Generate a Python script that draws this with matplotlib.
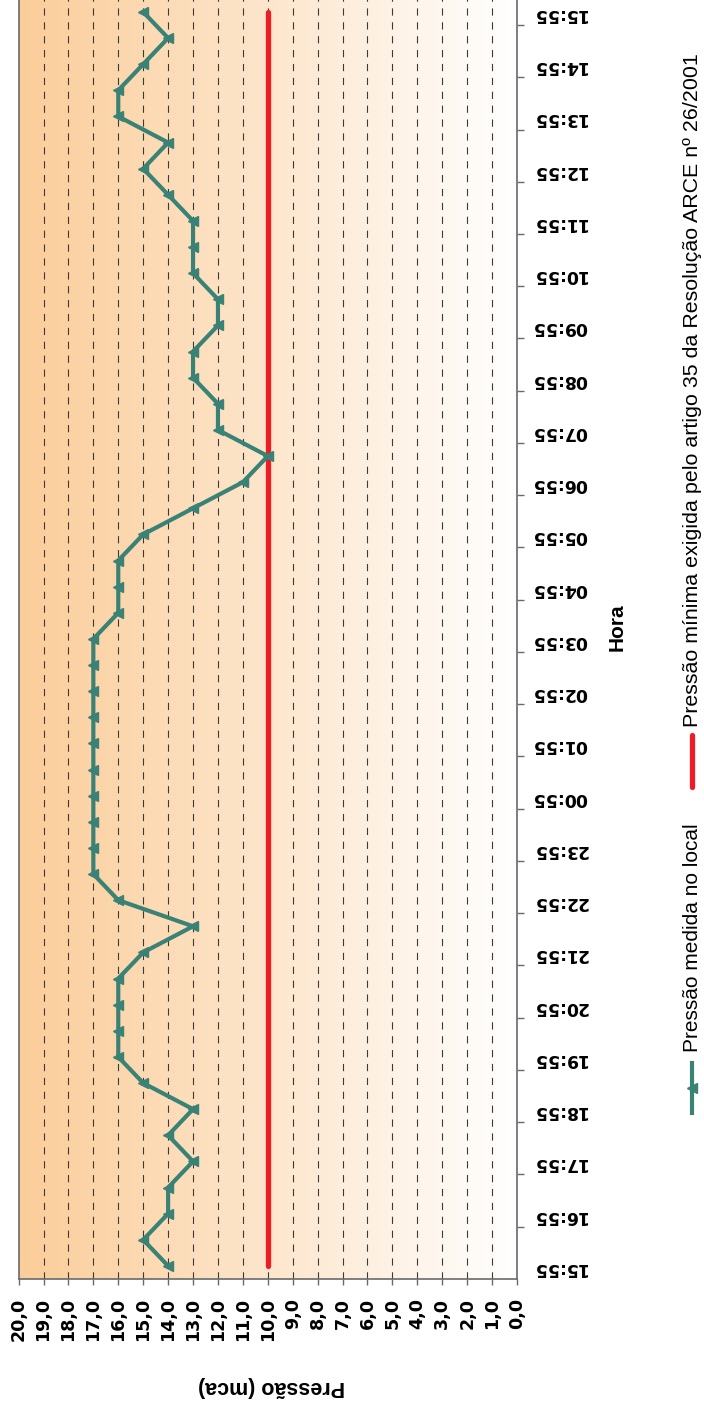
import numpy as np
import matplotlib
matplotlib.use('Agg')
import matplotlib.pyplot as plt
from matplotlib.colors import LinearSegmentedColormap
from matplotlib.lines import Line2D

# Hour labels (every second 30-min reading), 15:55 -> 15:55 next day
hour_labels = ['15:55', '16:55', '17:55', '18:55', '19:55', '20:55', '21:55',
               '22:55', '23:55', '00:55', '01:55', '02:55', '03:55', '04:55',
               '05:55', '06:55', '07:55', '08:55', '09:55', '10:55', '11:55',
               '12:55', '13:55', '14:55', '15:55']

# Measured pressure (mca), one reading every 30 minutes
pressure = [14, 15, 14, 14, 13, 14, 13, 15, 16, 16, 16, 16, 15, 13, 16, 17,
            17, 17, 17, 17, 17, 17, 17, 17, 17, 16, 16, 16, 15, 13, 11, 10,
            12, 12, 13, 13, 12, 12, 13, 13, 13, 14, 15, 14, 16, 16, 15, 14, 15]

min_pressure = 10.0
pressure_ticks = list(range(0, 21))

label_measured = 'Pressão medida no local'
label_minimum = 'Pressão mínima exigida pelo artigo 35 da Resolução ARCE nº 26/2001'

green = '#3a8276'
red = '#ee1d25'

fig = plt.figure(figsize=(7.04, 14.01), dpi=100)
ax = fig.add_axes([0.0264, 0.0871, 0.708, 0.9137])

n = len(pressure)
idx = np.arange(n)

# background gradient (orange at high pressure, white at zero)
cmap = LinearSegmentedColormap.from_list('bg', ['#ffffff', '#fbcd99'])
ax.imshow(np.linspace(0, 1, 256)[None, :], extent=[0, 20, -0.5, n - 0.5],
          cmap=cmap, aspect='auto', zorder=0)

# dashed grid at every integer pressure
for v in pressure_ticks[1:-1]:
    ax.axvline(v, color='#3a3a3a', lw=0.8, dashes=(6.5, 6), zorder=1)

ax.plot([min_pressure] * n, idx, color=red, lw=3.8, solid_capstyle='round', zorder=3)
ax.plot(pressure, idx, color=green, lw=3, marker='<', markersize=7,
        markeredgecolor=green, markerfacecolor=green, solid_joinstyle='round', zorder=4)

ax.set_xlim(20, 0)
ax.set_ylim(-0.5, n - 0.5)

for side in ['left', 'right', 'bottom']:
    ax.spines[side].set_color('#6a6a6a')
    ax.spines[side].set_linewidth(1.2)
ax.spines['top'].set_visible(False)

# pressure axis (bottom)
ax.set_xticks(pressure_ticks)
ax.set_xticklabels([f'{v:.1f}'.replace('.', ',') for v in pressure_ticks],
                   rotation=90, fontweight='bold', fontsize=12.6, family='DejaVu Sans')
ax.tick_params(axis='x', direction='out', length=4.5, width=1, color='#6a6a6a', pad=9)

# hour axis (right)
ax.yaxis.tick_right()
ax.set_yticks(idx[::2])
ax.set_yticklabels(hour_labels, rotation=180, fontweight='bold', fontsize=12.4,
                   family='DejaVu Sans')
ax.set_yticks(np.arange(1.5, n - 1, 2), minor=True)
ax.tick_params(axis='y', which='major', length=0, pad=11)
ax.tick_params(axis='y', which='minor', direction='out', length=5, width=1,
               color='#6a6a6a')
ax.tick_params(axis='y', which='both', left=False)

fig.text(0.8764, 0.5525, 'Hora', rotation=90, ha='center', va='center',
         fontsize=15, fontweight='bold', family=['Liberation Sans', 'DejaVu Sans'])
fig.text(0.386, 0.0100, 'Pressão (mca)', rotation=180, ha='center', va='center',
         fontsize=15.5, fontweight='bold', family=['Liberation Sans', 'DejaVu Sans'])

# legend, drawn by hand so it can be rotated
lx = 692 / 704
fig.add_artist(Line2D([lx, lx], [1 - 787 / 1401, 1 - 735 / 1401], color=red, lw=3.8,
                      solid_capstyle='round', transform=fig.transFigure))
fig.text(lx, 1 - 727 / 1401, label_minimum, rotation=90, ha='center', va='bottom',
         fontsize=15.4, family=['Liberation Sans', 'DejaVu Sans'])
fig.add_artist(Line2D([lx, lx], [1 - 1113 / 1401, 1 - 1063 / 1401], color=green, lw=3,
                      transform=fig.transFigure))
fig.add_artist(Line2D([lx], [1 - 1088 / 1401], color=green, marker='<', markersize=7,
                      transform=fig.transFigure))
fig.text(lx, 1 - 1052 / 1401, label_measured, rotation=90, ha='center', va='bottom',
         fontsize=15.0, family=['Liberation Sans', 'DejaVu Sans'])

fig.savefig('out.png', dpi=100)
